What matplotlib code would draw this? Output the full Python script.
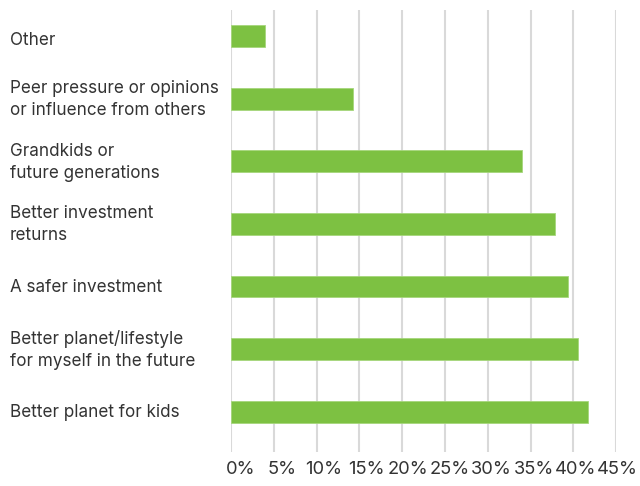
import matplotlib
matplotlib.use("Agg")
import matplotlib.pyplot as plt
from matplotlib import transforms

plt.rcParams['font.family'] = ['Inter', 'DejaVu Sans']

categories = [
    "Other",
    "Peer pressure or opinions\nor influence from others",
    "Grandkids or\nfuture generations",
    "Better investment\nreturns",
    "A safer investment",
    "Better planet/lifestyle\nfor myself in the future",
    "Better planet for kids",
]
values = [4.0, 14.3, 34.0, 37.8, 39.4, 40.5, 41.7]
xticks = [0, 5, 10, 15, 20, 25, 30, 35, 40, 45]
xtick_labels = [f"{t}%" for t in xticks]

bar_color = "#7dc142"
text_color = "#333333"
grid_color = "#d9d9d9"

W, H = 640, 486
fig = plt.figure(figsize=(W / 100, H / 100), dpi=100)
ax = fig.add_axes([231 / W, 1 - 451.5 / H, (616.3 - 231) / W, (451.5 - 10) / H])

n = len(categories)
ypos = list(range(n - 1, -1, -1))
ax.barh(ypos, values, height=0.35, color=bar_color, edgecolor="#a6d67c",
        linewidth=0.6, zorder=3)

ax.set_xlim(0, 45)
ax.set_ylim(-0.634, n - 1 + 0.415)
ax.set_xticks(xticks)
ax.set_xticklabels(xtick_labels, fontsize=13.2, color=text_color)
ax.set_yticks([])
ax.tick_params(axis="x", length=0, pad=7)

# percentage labels sit on a slightly tighter pitch than the gridlines
for i, lbl in enumerate(ax.get_xticklabels()):
    shift = 9.2 - 0.9 * i
    lbl.set_transform(lbl.get_transform() +
                      transforms.ScaledTranslation(shift / 100, 0, fig.dpi_scale_trans))

# left-aligned category labels at the figure's left margin
label_tf = transforms.blended_transform_factory(fig.transFigure, ax.transData)
for i, (cat, y) in enumerate(zip(categories, ypos)):
    dy = -4.5 if i == 0 else -1.0
    tf = label_tf + transforms.ScaledTranslation(0, dy / 100, fig.dpi_scale_trans)
    ax.text(10 / W, y, cat, transform=tf, ha="left", va="center",
            fontsize=12.3, color=text_color, linespacing=1.4)

ax.grid(axis="x", color=grid_color, linewidth=1.5, zorder=0)
ax.set_axisbelow(True)
for s in ax.spines.values():
    s.set_visible(False)

fig.savefig("out.png", dpi=100)
